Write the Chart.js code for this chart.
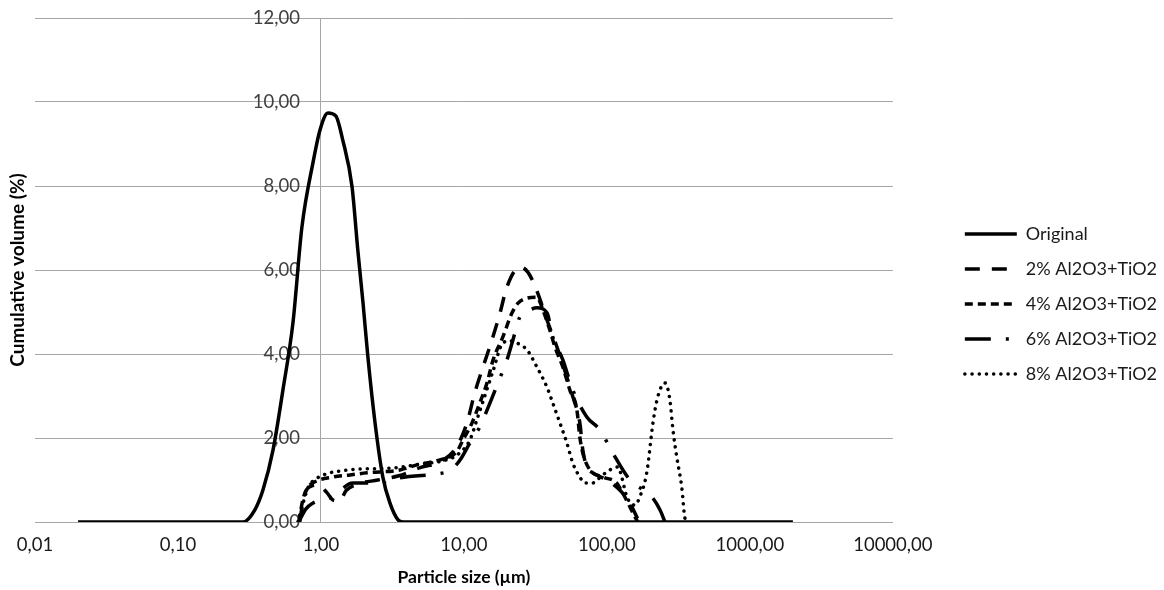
<!DOCTYPE html>
<html>
<head>
<meta charset="utf-8">
<script src="https://cdn.jsdelivr.net/npm/chart.js@4/dist/chart.umd.min.js"></script>
<style>
  body { margin: 0; background: #fff; }
  #wrap { width: 1164px; height: 590px; }
</style>
</head>
<body>
<div id="wrap"><canvas id="psdChart"></canvas></div>
<script>
// particle size (µm) and volume (%)
var originalSize = [0.02, 0.285, 0.345, 0.393, 0.462, 0.542, 0.637, 0.736, 0.879, 0.984, 1.12, 1.27, 1.42, 1.65, 1.81, 1.97, 2.13, 2.39, 2.71, 3.04, 3.46, 3.75, 2000];
var originalVol  = [0, 0, 0.29, 0.76, 1.71, 3.14, 4.74, 7.02, 8.55, 9.33, 9.74, 9.67, 9.10, 7.98, 6.48, 5.21, 3.93, 2.36, 1.07, 0.45, 0.05, 0, 0];

var al2Size = [0.71, 0.76, 0.85, 0.97, 1.1, 1.22, 1.35, 1.5, 1.8, 2.5, 3.5, 5, 7, 8.9, 10.5, 11.9, 13.6, 15.7, 17.9, 20, 24.6, 28, 32.4, 38.1, 44.7, 52.5, 57.8, 64.7, 67.9, 72.4, 79.8, 100, 123, 145, 162, 170];
var al2Vol  = [0, 0.6, 0.85, 0.88, 0.7, 0.52, 0.5, 0.75, 0.9, 1.0, 1.1, 1.3, 1.45, 1.79, 2.36, 3.07, 3.69, 4.33, 4.98, 5.6, 6.07, 5.95, 5.5, 4.81, 4.17, 3.45, 2.98, 2.36, 1.71, 1.31, 1.17, 1.0, 0.76, 0.45, 0.12, 0];

var al4Size = [0.7, 0.75, 0.8, 0.9, 1.21, 1.6, 2.1, 3.57, 4.69, 6.8, 8.9, 9.84, 11.4, 12.9, 14.5, 16, 18.7, 21.7, 23.9, 27.6, 32.4, 35.7, 39.9, 43.3, 49.2, 55.1, 61.7, 64.7, 67.9, 76.1, 93.8, 117, 129, 145, 157, 165];
var al4Vol  = [0, 0.55, 0.8, 0.95, 1.07, 1.12, 1.17, 1.24, 1.36, 1.48, 1.67, 1.95, 2.36, 2.83, 3.31, 3.86, 4.40, 4.98, 5.21, 5.33, 5.35, 5.05, 4.57, 4.17, 3.69, 3.14, 2.67, 2.02, 1.64, 1.24, 1.07, 0.93, 0.69, 0.36, 0.12, 0];

var al6Size = [0.7, 0.78, 0.88, 1.21, 1.67, 3.04, 3.57, 7.6, 8.5, 9.5, 11, 12.9, 15.2, 17.3, 20, 22, 24.6, 29, 32.4, 38.1, 41.9, 49.2, 57.8, 72.4, 89.4, 110, 145, 206, 235, 255];
var al6Vol  = [0, 0.3, 0.45, 0.6, 0.93, 0.93, 1.05, 1.19, 1.3, 1.5, 1.88, 2.26, 2.83, 3.31, 3.86, 4.33, 4.88, 5.05, 5.1, 4.98, 4.4, 3.86, 3.14, 2.5, 2.19, 1.64, 1.0, 0.6, 0.29, 0];

var al8Size = [0.69, 0.75, 0.82, 0.9, 1.1, 1.4, 1.8, 2.5, 3.5, 5, 7, 9, 11, 12.5, 14, 16, 18.7, 21, 23.5, 27.6, 32.4, 38.1, 41.9, 46.9, 52.5, 57.8, 64.7, 70, 79.8, 92, 105, 120, 127, 138, 157, 170, 190, 210, 227, 255, 276, 290, 308, 334, 351, 365];
var al8Vol  = [0, 0.45, 0.85, 1.0, 1.15, 1.22, 1.26, 1.27, 1.3, 1.38, 1.45, 1.6, 1.95, 2.5, 3.0, 3.6, 4.26, 4.31, 4.26, 4.1, 3.69, 3.21, 2.83, 2.36, 1.88, 1.40, 1.07, 0.93, 0.93, 1.1, 1.24, 1.31, 1.07, 0.6, 0.4, 0.6, 1.17, 2.36, 2.98, 3.31, 2.9, 2.19, 1.55, 0.83, 0.1, 0];

var seriesNames = ["Original", "2% Al2O3+TiO2", "4% Al2O3+TiO2", "6% Al2O3+TiO2", "8% Al2O3+TiO2"];

// axis ticks
var xTicks = [0.01, 0.1, 1, 10, 100, 1000, 10000];
var yTicks = [0, 2, 4, 6, 8, 10, 12];

var gridGray = "#a6a6a6";
var fontName = "Lato";

// the value labels hang ~21px (0.15 decade) left of the 1 µm crossing line
var yLabelAnchor = Math.pow(10, -0.147);

function toPoints(sizes, vols) {
  return sizes.map(function(s, i) { return {x: s, y: vols[i]}; });
}

// numbers written with a decimal comma
function commaFmt(v) {
  return Number(v).toFixed(2).replace(".", ",");
}

var line = document.getElementById("psdChart");

var psdChart = new Chart(line, {
  type: 'line',
  data: {
    datasets: [
      {
        label: seriesNames[0],
        data: toPoints(originalSize, originalVol),
        borderColor: "#000",
        borderWidth: 3.5
      },
      {
        label: seriesNames[1],
        data: toPoints(al2Size, al2Vol),
        borderColor: "#000",
        borderWidth: 3.5,
        borderDash: [15, 12]
      },
      {
        label: seriesNames[2],
        data: toPoints(al4Size, al4Vol),
        borderColor: "#000",
        borderWidth: 3.5,
        borderDash: [8, 5]
      },
      {
        label: seriesNames[3],
        data: toPoints(al6Size, al6Vol),
        borderColor: "#000",
        borderWidth: 3.5,
        borderDash: [26, 15, 3, 15]
      },
      {
        label: seriesNames[4],
        data: toPoints(al8Size, al8Vol),
        borderColor: "#000",
        borderWidth: 3.5,
        borderCapStyle: 'round',
        borderDash: [0.1, 7.1]
      }
    ]
  },
  options: {
    responsive: true,
    maintainAspectRatio: false,
    animation: false,
    layout: { padding: { top: 18, right: -3, bottom: 0, left: 0 } },
    elements: {
      point: { radius: 0, hoverRadius: 0, borderWidth: 0 },
      line: { cubicInterpolationMode: 'monotone', fill: false }
    },
    scales: {
      x: {
        type: 'logarithmic',
        position: 'bottom',
        min: 0.01,
        max: 10000,
        afterBuildTicks: function(scale) {
          scale.ticks = xTicks.map(function(v) { return {value: v}; });
        },
        afterFit: function(scale) { scale.height = 68; },
        // only the 1 µm line is drawn, where the value axis crosses
        grid: {
          drawTicks: false,
          tickLength: 0,
          color: function(c) { return c.tick && c.tick.value === 1 ? gridGray : "rgba(0,0,0,0)"; }
        },
        border: { display: true, color: gridGray, width: 1 },
        ticks: {
          autoSkip: false,
          maxRotation: 0,
          padding: 12,
          color: "#1a1a1a",
          font: { family: fontName, size: 18.5 },
          callback: function(v) { return commaFmt(v); }
        },
        title: {
          display: true,
          text: "Particle size (µm)",
          color: "#000",
          font: { family: fontName, size: 17.5, weight: 'bold' },
          padding: { top: 11, bottom: 2 }
        }
      },
      y: {
        type: 'linear',
        position: { x: yLabelAnchor },
        min: 0,
        max: 12,
        afterBuildTicks: function(scale) {
          scale.ticks = yTicks.map(function(v) { return {value: v}; });
        },
        grid: { color: gridGray, lineWidth: 1, drawTicks: false, tickLength: 0 },
        border: { display: false },
        ticks: {
          padding: 0,
          color: "#404040",
          font: { family: fontName, size: 18.5 },
          callback: function(v) { return commaFmt(v); }
        }
      },
      // left strip carrying the value axis title
      yTitle: {
        type: 'linear',
        position: 'left',
        grid: { display: false },
        border: { display: false },
        ticks: { display: false },
        title: {
          display: true,
          text: "Cumulative volume (%)",
          color: "#000",
          font: { family: fontName, size: 19, weight: 'bold' },
          padding: 6
        },
        afterFit: function(scale) { scale.width = 35; }
      },
      // gap between plot and legend
      gapRight: {
        type: 'linear',
        position: 'right',
        grid: { display: false },
        border: { display: false },
        ticks: { display: false },
        afterFit: function(scale) { scale.width = 55; }
      }
    },
    plugins: {
      tooltip: { enabled: false },
      legend: {
        position: 'right',
        maxWidth: 300,
        labels: {
          usePointStyle: true,
          pointStyle: 'line',
          pointStyleWidth: 52,
          padding: 17,
          color: "#1a1a1a",
          font: { family: fontName, size: 18 },
          // legend samples take the dash pattern of their line
          generateLabels: function(chart) {
            var items = Chart.defaults.plugins.legend.labels.generateLabels(chart);
            items.forEach(function(item) {
              var ds = chart.data.datasets[item.datasetIndex];
              item.pointStyle = 'line';
              item.lineWidth = ds.borderWidth;
              item.lineDash = ds.borderDash || [];
              item.lineDashOffset = ds.borderDashOffset || 0;
              item.lineCap = ds.borderCapStyle || 'butt';
            });
            return items;
          }
        }
      }
    }
  }
});
</script>
</body>
</html>
